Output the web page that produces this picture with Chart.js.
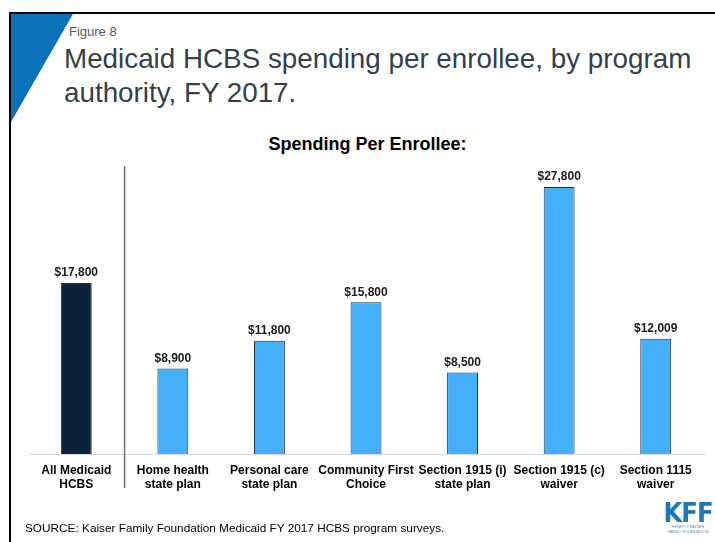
<!DOCTYPE html>
<html>
<head>
<meta charset="utf-8">
<script src="https://cdn.jsdelivr.net/npm/chart.js@4"></script>
<style>
  html, body { margin: 0; padding: 0; background: #fff; }
  body { width: 715px; height: 542px; position: relative; overflow: hidden; font-family: "Liberation Sans", Arial, sans-serif; }
  #frame { position: absolute; left: 9px; top: 12px; width: 706px; height: 530px; border-top: 2px solid #000; border-left: 2px solid #000; box-sizing: border-box; }
  #tri { position: absolute; left: 0; top: 0; }
  #fig { position: absolute; left: 69px; top: 24px; font-size: 13px; color: #595959; }
  #title { position: absolute; left: 64px; top: 42px; font-size: 27.8px; line-height: 34px; color: #333f4a; }
  #sub { position: absolute; left: 0; width: 735px; top: 134px; text-align: center; font-size: 18px; font-weight: bold; color: #000; }
  #source { position: absolute; left: 25px; top: 521px; font-size: 11.8px; color: #000; }
  #kff { position: absolute; left: 662px; top: 501px; width: 52px; text-align: center; color: #1b78bd; }
  #kff b { display: block; font-family: "DejaVu Sans Condensed", "Liberation Sans Narrow", sans-serif; font-size: 27px; line-height: 23px; letter-spacing: -1px; font-weight: 900; }
  #kff span { display: block; font-size: 4px; line-height: 5px; color: #5a8fb8; }
  #wrap { position: absolute; left: 0; top: 0; width: 715px; height: 542px; }
</style>
</head>
<body>
<div id="frame">
  <svg id="tri" width="64" height="110"><polygon points="0,0 62,0 0,108" fill="#0b72ba"/></svg>
</div>
<div id="fig">Figure 8</div>
<div id="title">Medicaid HCBS spending per enrollee, by program<br>authority, FY 2017.</div>
<div id="sub">Spending Per Enrollee:</div>
<div id="wrap"><canvas id="chart" width="715" height="542"></canvas></div>
<div id="source">SOURCE: Kaiser Family Foundation Medicaid FY 2017 HCBS program surveys.</div>
<div id="kff"><b>KFF</b><span>HENRY J KAISER<br>FAMILY FOUNDATION</span></div>
<script>
// program authorities and per-enrollee spending
const programs = [
    ['All Medicaid', 'HCBS'],
    ['Home health', 'state plan'],
    ['Personal care', 'state plan'],
    ['Community First', 'Choice'],
    ['Section 1915 (i)', 'state plan'],
    ['Section 1915 (c)', 'waiver'],
    ['Section 1115', 'waiver']
];
const spending = [17800, 8900, 11800, 15800, 8500, 27800, 12009];
const barColors = ['#0b2238', '#45b0fa', '#45b0fa', '#45b0fa', '#45b0fa', '#45b0fa', '#45b0fa'];

const fmt = v => '$' + v.toLocaleString('en-US');

// value labels over the bars plus the divider after the "All Medicaid" bar
const barExtras = {
    id: 'barExtras',
    afterDatasetsDraw(chart) {
        const c = chart.ctx;
        const xs = chart.scales.x;
        const meta = chart.getDatasetMeta(0);
        c.save();
        c.font = 'bold 12px "Liberation Sans", Arial, sans-serif';
        c.fillStyle = '#1a1a1a';
        c.textAlign = 'center';
        c.textBaseline = 'bottom';
        meta.data.forEach((bar, i) => {
            c.fillText(fmt(spending[i]), bar.x, bar.y - 4);
        });
        const dx = (xs.getPixelForValue(0) + xs.getPixelForValue(1)) / 2;
        c.strokeStyle = '#6e6e6e';
        c.lineWidth = 1.5;
        c.beginPath();
        c.moveTo(dx, chart.chartArea.top);
        c.lineTo(dx, 488);
        c.stroke();
        c.restore();
    }
};

new Chart(document.getElementById('chart'), {
    type: 'bar',
    data: {
        labels: programs,
        datasets: [{
            data: spending,
            backgroundColor: barColors,
            borderColor: '#22303d',
            borderWidth: 1,
            barPercentage: 0.4,
            categoryPercentage: 0.8
        }]
    },
    options: {
        responsive: false,
        animation: false,
        layout: { padding: { left: 28, right: 11, top: 166, bottom: 0 } },
        plugins: { legend: { display: false }, tooltip: { enabled: false } },
        scales: {
            x: {
                grid: { display: false, drawTicks: false },
                border: { color: '#d9d9d9', width: 1 },
                ticks: {
                    color: '#000',
                    padding: 10,
                    maxRotation: 0,
                    autoSkip: false,
                    font: { family: '"Liberation Sans", Arial, sans-serif', size: 12, weight: 'bold', lineHeight: 1.15 }
                },
                afterFit: s => { s.height = 88; }
            },
            y: { display: false, min: 0, max: 30000 }
        }
    },
    plugins: [barExtras]
});
</script>
</body>
</html>
